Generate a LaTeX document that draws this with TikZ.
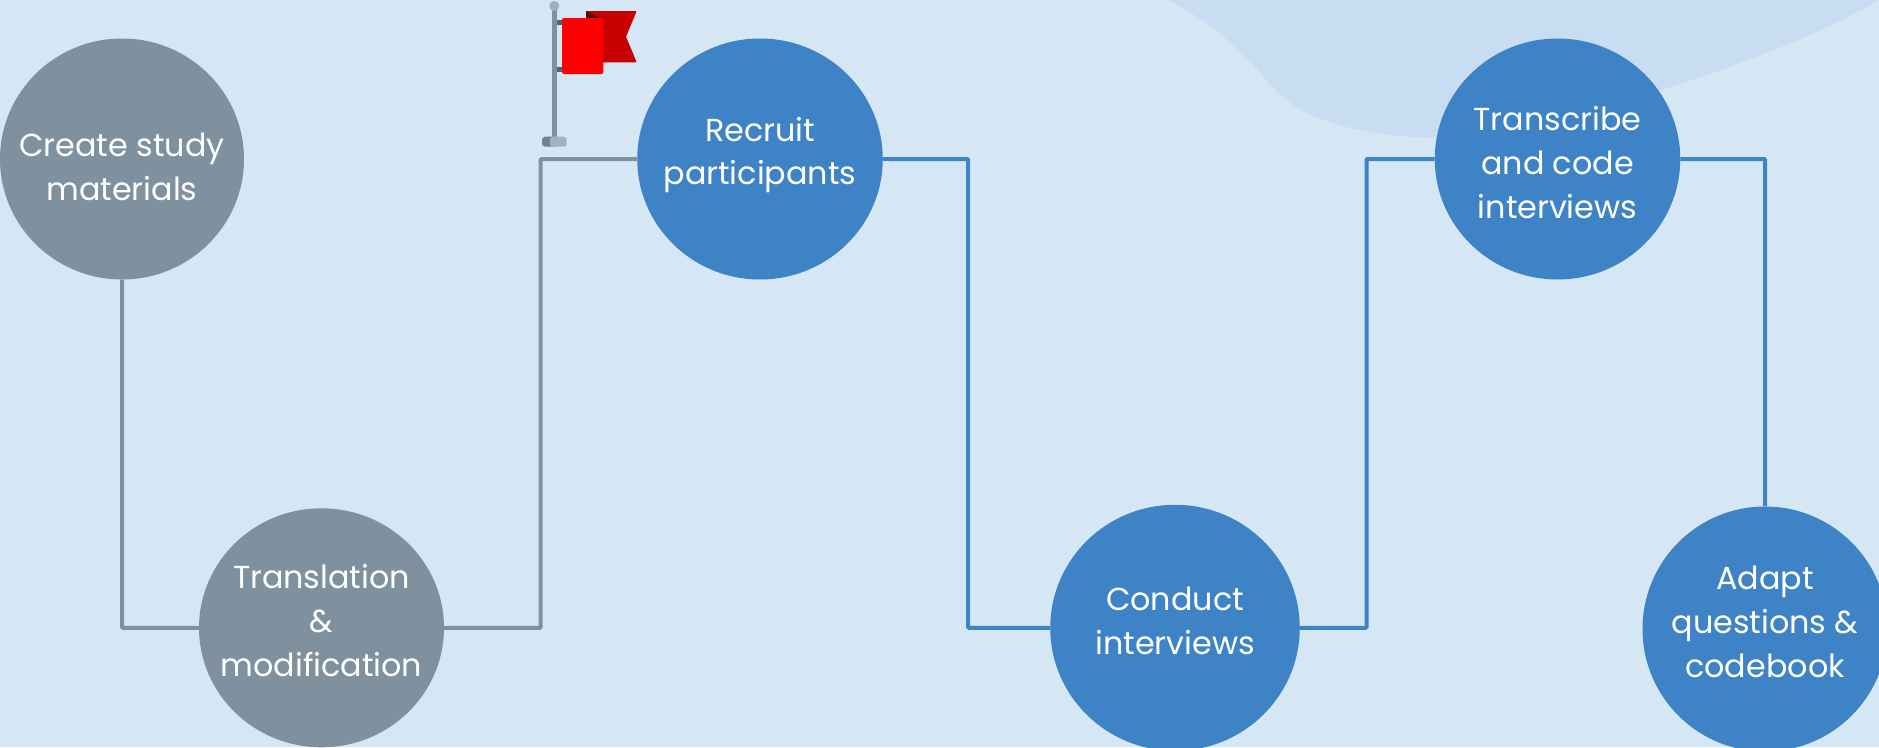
\documentclass[tikz,border=0pt]{standalone}
\usepackage{fontspec}
\setmainfont{Poppins}
\usetikzlibrary{shapes.geometric}
\definecolor{bgc}{HTML}{D5E6F5}
\definecolor{blobc}{HTML}{C8DDF1}
\definecolor{stepblue}{HTML}{3E83C6}
\definecolor{stepgray}{HTML}{7F909F}
\definecolor{flagbase}{HTML}{A0B2C6}
\definecolor{flagknob}{HTML}{9FB0C4}
\definecolor{flagarm}{HTML}{4A6480}
\definecolor{flagback}{HTML}{C80000}
\definecolor{flagfold}{HTML}{5A0A00}
\tikzset{
  stepnode/.style={ellipse,inner sep=0pt},
  steptext/.style={inner sep=0pt,text=white,align=center,font=\fontsize{31.8}{43.8}\selectfont},
  linkline/.style={line width=4pt,rounded corners=1pt}
}
\begin{document}
\begin{tikzpicture}[x=1pt,y=-1pt]
\useasboundingbox (0,0) rectangle (1879,747);
\clip (0,0) rectangle (1879,747);
\fill[bgc] (0,0) rectangle (1879,747);
\fill[blobc] (1168,0) .. controls (1205,18) and (1235,45) .. (1258,70)
  .. controls (1278,95) and (1295,113) .. (1340,125)
  .. controls (1370,134) and (1400,137) .. (1438,138)
  .. controls (1520,137) and (1760,70) .. (1879,0) -- cycle;
% nodes
\node[stepnode,fill=stepgray,minimum width=244pt,minimum height=241pt,label={[steptext,yshift=-8pt]center:Create study\\materials}] (a) at (122,159) {};
\node[stepnode,fill=stepgray,minimum width=245pt,minimum height=239pt,label={[steptext,yshift=7pt]center:Translation\\\&\\modification}] (b) at (321.5,627.8) {};
\node[stepnode,fill=stepblue,minimum width=245.5pt,minimum height=241pt,label={[steptext,yshift=4pt]center:Recruit\\participants}] (c) at (760,159) {};
\node[stepnode,fill=stepblue,minimum width=249.5pt,minimum height=246pt,label={[steptext,yshift=7pt]center:Conduct\\interviews}] (d) at (1175,627.8) {};
\node[stepnode,fill=stepblue,minimum width=245.5pt,minimum height=241pt,label={[steptext,yshift=-3.5pt]center:Transcribe\\and code\\interviews}] (e) at (1557.5,159) {};
\node[stepnode,fill=stepblue,minimum width=245pt,minimum height=245pt,label={[steptext,yshift=7pt]center:Adapt\\questions \&\\codebook}] (f) at (1765,629) {};
\coordinate (j1) at (540.7,400);
\coordinate (j2) at (968,400);
\coordinate (j3) at (1366.5,400);
% connectors
\draw[linkline,stepgray] (a.south) |- (b.west);
\draw[linkline,stepgray] (b.east) -| (j1) |- (c.west);
\draw[linkline,stepblue] (c.east) -| (j2) |- (d.west);
\draw[linkline,stepblue] (d.east) -| (j3) |- (e.west);
\draw[linkline,stepblue] (e.east) -| (f.north);
% flag
\fill[stepgray] (552,6) rectangle (556.7,140);
\fill[stepgray!90!black, rounded corners=3pt] (542,136.7) rectangle (556,146.7);
\fill[flagbase, rounded corners=3pt] (550,136.7) rectangle (566.7,146.7);
\fill[flagknob] (554.3,6) circle (5pt);
\fill[flagarm] (556.7,20) rectangle (563,25);
\fill[flagarm] (556.7,67) rectangle (563,72);
\fill[flagback,rounded corners=1pt] (586,11) -- (636.7,11) -- (626,36.7) -- (636.7,62.3) -- (586,62.3) -- cycle;
\fill[flagfold] (586,11) -- (600,18) -- (586,18) -- cycle;
\fill[red,rounded corners=2pt] (562,18) rectangle (603.3,74);
\end{tikzpicture}
\end{document}
